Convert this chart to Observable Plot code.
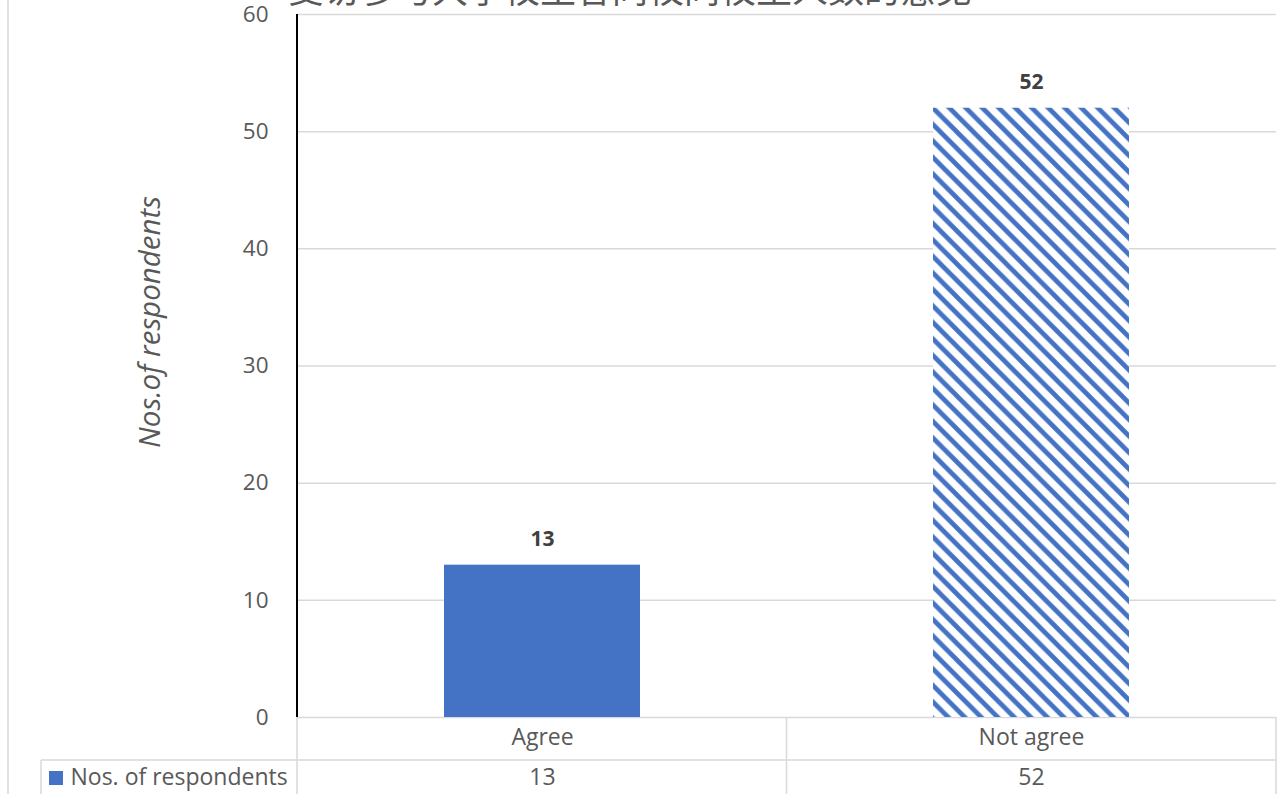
<!DOCTYPE html>
<html>
<head>
<meta charset="utf-8">
<script src="https://cdn.jsdelivr.net/npm/d3@7"></script>
<script src="https://cdn.jsdelivr.net/npm/@observablehq/plot@0.6"></script>
<style>
  html, body { margin: 0; padding: 0; background: white; overflow: hidden; }
  #chart { width: 1286px; height: 794px; position: relative; }
</style>
</head>
<body>
<div id="chart"></div>
<script>
// ---- data ----
const categories = ["Agree", "Not agree"];
const values = [13, 52];
const yTicks = [0, 10, 20, 30, 40, 50, 60];
const seriesName = "Nos. of respondents";
const yLabel = "Nos.of respondents";
const titleText = "受访参与大学校生答同校同校生人数的意见";

const data = categories.map((c, i) => ({category: c, value: values[i]}));

const W = 1286, H = 794;
const mL = 297, mR = 10, mT = 14, mB = 77;
const grid = "#d9d9d9";
const txt = "#595959";
const font = "'Open Sans', 'Noto Sans', sans-serif";

const plot = Plot.plot({
  width: W, height: H,
  marginLeft: mL, marginRight: mR, marginTop: mT, marginBottom: mB,
  style: {fontFamily: font, background: "white", overflow: "visible"},
  x: {domain: categories, paddingInner: 0.6, paddingOuter: 0.3, label: null},
  y: {domain: [0, 60], ticks: yTicks, label: null},
  marks: [
    Plot.gridY(yTicks, {stroke: grid, strokeOpacity: 1, strokeWidth: 1.5}),
    Plot.barY(data.filter(d => d.category === categories[0]), {x: "category", y: "value", fill: "#4472c4"}),
    Plot.barY(data.filter(d => d.category === categories[1]), {x: "category", y: "value", fill: "url(#hatch)"}),
    Plot.text(data, {x: "category", y: "value", text: d => String(d.value), dy: -26,
      fontWeight: "bold", fontSize: 21, fill: "#404040"}),
    Plot.axisY({ticks: yTicks, tickSize: 0, tickPadding: 29, fontSize: 22.5, fill: txt, label: null}),
    Plot.axisX({tickSize: 0, tickPadding: 11, fontSize: 23, fill: txt, label: null}),
    Plot.text(data, {x: "category", frameAnchor: "bottom", dy: 67, text: d => String(d.value),
      fontSize: 23, fill: txt}),
    Plot.text([yLabel], {frameAnchor: "left", textAnchor: "middle", rotate: -90, dx: -147, dy: -44,
      fontSize: 29.5, fontStyle: "italic", fill: txt}),
    Plot.text([seriesName], {frameAnchor: "bottom-left", dx: -227, dy: 67, textAnchor: "start",
      fontSize: 23, fill: txt})
  ]
});

document.getElementById("chart").appendChild(plot);

// ---- decorations using the plot's scales ----
const svg = d3.select(plot);
const xs = plot.scale("x");
const ys = plot.scale("y");
const y0 = ys.apply(0), yTop = ys.apply(60);
const bw = xs.bandwidth;
const boundary = (xs.apply(categories[0]) + bw + xs.apply(categories[1])) / 2;

// hatch pattern
const defs = svg.insert("defs", ":first-child");
const p = 16.5;
const pat = defs.append("pattern").attr("id", "hatch").attr("patternUnits", "userSpaceOnUse")
  .attr("width", p).attr("height", p);
pat.append("rect").attr("width", p).attr("height", p).attr("fill", "white");
pat.append("path")
  .attr("d", `M${-p/2},${-p/2}L${p*1.5},${p*1.5}M${-p/2},${p/2}L${p/2},${p*1.5}M${p/2},${-p/2}L${p*1.5},${p/2}`)
  .attr("stroke", "#4472c4").attr("stroke-width", 4.7);

const g = svg.append("g");
// y axis line
g.append("line").attr("x1", mL).attr("x2", mL).attr("y1", yTop).attr("y2", y0)
  .attr("stroke", "black").attr("stroke-width", 2);

// data table lines
const rowY = y0 + 43;
const right = W - mR;
const lines = [
  [mL, y0, mL, H], [boundary, y0, boundary, H], [right, y0, right, H],
  [41, rowY, right, rowY], [41, rowY, 41, H], [8, 0, 8, H]
];
for (const [x1, y1, x2, y2] of lines) {
  g.append("line").attr("x1", x1).attr("y1", y1).attr("x2", x2).attr("y2", y2)
    .attr("stroke", grid).attr("stroke-width", 1.5);
}
// legend key
g.append("rect").attr("x", 49).attr("y", rowY + 11).attr("width", 14).attr("height", 14).attr("fill", "#4472c4");

// title (cut off at top like the reference)
svg.append("text").attr("x", 630).attr("y", 3).attr("text-anchor", "middle")
  .attr("font-family", "'Noto Sans CJK SC', sans-serif").attr("font-size", 36).attr("fill", txt)
  .text(titleText);
</script>
</body>
</html>
